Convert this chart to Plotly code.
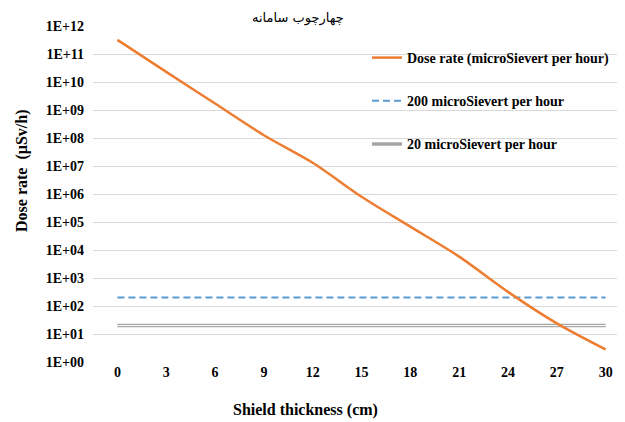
import plotly.graph_objects as go

thickness_cm = [0, 3, 6, 9, 12, 15, 18, 21, 24, 27, 30]
dose_rate = [3.2e11, 2.3e10, 1.7e9, 1.25e8, 1.3e7, 8.0e5, 6.8e4, 5.8e3, 3.2e2, 24, 2.8]
limit_200 = [200] * len(thickness_cm)
limit_20 = [20] * len(thickness_cm)
y_tick_vals = [10 ** k for k in range(0, 13)]
y_tick_text = ["1E+%02d" % k for k in range(0, 13)]

serif = "Liberation Serif, Times New Roman, serif"

# page body has an 8px default margin; figure sized so it fits the 625x422 window
W, H = 617, 414
PL, PR, PT, PB = 85, 617, 18, 354  # plot area in figure pixels


def px(xf):
    return (xf - 8 - PL) / (PR - PL)


def py(yf):
    return (PB - (yf - 8)) / (PB - PT)


fig = go.Figure()

fig.add_trace(go.Scatter(
    x=thickness_cm, y=limit_200, mode="lines",
    name="200 microSievert per hour",
    line=dict(color="#5B9BD5", width=2, dash="7px,4px"),
    legendgroup="b", legendrank=2,
))
fig.add_trace(go.Scatter(
    x=thickness_cm, y=limit_20, mode="lines",
    name="20 microSievert per hour",
    line=dict(color="#A5A5A5", width=3.5),
    legendgroup="c", legendrank=3,
))
fig.add_trace(go.Scatter(
    x=thickness_cm, y=limit_20, mode="lines",
    line=dict(color="#FFFFFF", width=1),
    showlegend=False, hoverinfo="skip",
))
fig.add_trace(go.Scatter(
    x=thickness_cm, y=dose_rate, mode="lines",
    name="Dose rate (microSievert per hour)",
    line=dict(color="#ED7D31", width=2.5, shape="spline", smoothing=0.8),
    legendgroup="a", legendrank=1,
))

fig.update_layout(
    width=W, height=H,
    margin=dict(l=PL, r=W - PR, t=PT, b=H - PB, pad=0),
    paper_bgcolor="white", plot_bgcolor="white",
    font=dict(family=serif, size=14, color="#000000"),
    showlegend=True,
    legend=dict(
        x=px(367), y=py(42), xanchor="left", yanchor="top",
        bgcolor="rgba(0,0,0,0)",
        font=dict(family=serif, size=14, color="#000000", weight="bold"),
        traceorder="grouped", tracegroupgap=22,
    ),
    xaxis=dict(
        range=[-1.5, 31.19],
        tickvals=thickness_cm,
        ticktext=[str(v) for v in thickness_cm],
        showgrid=False, zeroline=False, showline=False,
        ticks="",
        tickfont=dict(family=serif, size=14, color="#000000", weight="bold"),
    ),
    yaxis=dict(
        type="log",
        range=[0, 12],
        tickvals=y_tick_vals,
        ticktext=y_tick_text,
        showgrid=True, gridcolor="#D9D9D9", gridwidth=1,
        zeroline=False, showline=False, ticks="",
        ticklabelstandoff=8,
        tickfont=dict(family=serif, size=14, color="#000000", weight="bold"),
    ),
    annotations=[
        dict(text="Dose rate  (\u00b5Sv/h)", textangle=-90,
             xref="paper", yref="paper",
             x=px(22), y=py(171),
             xanchor="center", yanchor="middle", showarrow=False,
             font=dict(family=serif, size=16, color="#000000", weight="bold")),
        dict(text="Shield thickness (cm)",
             xref="paper", yref="paper",
             x=px(305), y=py(410),
             xanchor="center", yanchor="middle", showarrow=False,
             font=dict(family=serif, size=16, color="#000000", weight="bold")),
        dict(text="چهارچوب سامانه",
             xref="paper", yref="paper",
             x=px(298), y=py(18),
             xanchor="center", yanchor="middle", showarrow=False,
             font=dict(family="DejaVu Sans, Noto Sans", size=13, color="#000000")),
    ],
)

fig.write_html("out.html")
